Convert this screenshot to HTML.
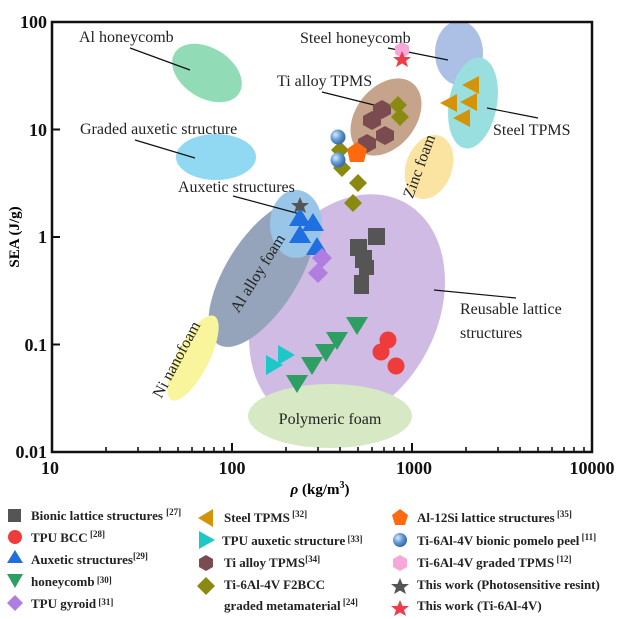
<!DOCTYPE html>
<html><head><meta charset="utf-8"><style>
body{margin:0;background:#fff;}
svg{display:block;font-family:"Liberation Serif",serif;}
.l{font-size:16px;fill:#222;}
.t{font-size:18px;font-weight:bold;fill:#111;}
.g{font-size:13px;font-weight:bold;fill:#222;}
.g tspan.s{font-size:9px;}
</style></head><body>
<svg width="625" height="619" viewBox="0 0 625 619" xmlns="http://www.w3.org/2000/svg">
<defs>
<radialGradient id="ball" cx="35%" cy="35%" r="65%"><stop offset="0" stop-color="#d8ecff"/><stop offset="0.5" stop-color="#6aa0d8"/><stop offset="1" stop-color="#3a6aa8"/></radialGradient>
</defs>
<!-- ellipses -->
<ellipse cx="347" cy="310" rx="90" ry="122" transform="rotate(28 347 310)" fill="#cfbbe3"/>
<ellipse cx="262" cy="274" rx="36" ry="83" transform="rotate(32 262 274)" fill="#95a4bb"/>
<ellipse cx="207" cy="73" rx="38" ry="25" transform="rotate(32 207 73)" fill="#91dcb6"/>
<ellipse cx="216" cy="157" rx="40" ry="23" fill="#91d8f2"/>
<ellipse cx="459" cy="53" rx="24" ry="32" fill="#abc0e4"/>
<ellipse cx="473" cy="103" rx="24" ry="46" transform="rotate(10 473 103)" fill="#9adfe0"/>
<ellipse cx="386" cy="117" rx="30" ry="43" transform="rotate(38 386 117)" fill="#c6a48c"/>
<ellipse cx="429" cy="167" rx="23" ry="33" transform="rotate(20 429 167)" fill="#fbe4a2"/>
<ellipse cx="296" cy="224" rx="26" ry="34" fill="#98c5e8"/>
<ellipse cx="193" cy="358" rx="16" ry="47" transform="rotate(27 193 358)" fill="#f8f59c"/>
<ellipse cx="330" cy="416" rx="82" ry="32" fill="#d6e9c4"/>
<!-- leaders -->
<g stroke="#111" stroke-width="1.2">
<line x1="130" y1="48" x2="190" y2="70"/>
<line x1="135" y1="140" x2="195" y2="158"/>
<line x1="233" y1="196" x2="300" y2="214"/>
<line x1="388" y1="48" x2="448" y2="60"/>
<line x1="322" y1="92" x2="378" y2="106"/>
<line x1="487" y1="108" x2="538" y2="118"/>
<line x1="434" y1="290" x2="516" y2="298"/>
</g>
<!-- labels -->
<g class="l">
<text x="79" y="42">Al honeycomb</text>
<text x="80" y="134">Graded auxetic structure</text>
<text x="178" y="192">Auxetic structures</text>
<text x="300" y="43">Steel honeycomb</text>
<text x="277" y="86">Ti alloy TPMS</text>
<text x="493" y="135">Steel TPMS</text>
<text x="460" y="314">Reusable lattice</text>
<text x="460" y="338">structures</text>
<text x="330" y="424" text-anchor="middle">Polymeric foam</text>
<text transform="translate(424,168) rotate(-70)" text-anchor="middle">Zinc foam</text>
<text transform="translate(262,276) rotate(-58)" text-anchor="middle">Al alloy foam</text>
<text transform="translate(181,362) rotate(-62)" text-anchor="middle">Ni nanofoam</text>
</g>
<!-- markers -->
<g fill="#555">
<rect x="368" y="228" width="17" height="17"/><rect x="350" y="239" width="17" height="17"/>
<rect x="355" y="251" width="17" height="17"/><rect x="359" y="260" width="15" height="15"/>
<rect x="354" y="275" width="15" height="19"/><rect x="358" y="250" width="14" height="14"/>
</g>
<g fill="#ee3c3c"><circle cx="388" cy="340" r="8.5"/><circle cx="381" cy="352" r="8.5"/><circle cx="396" cy="366" r="8.5"/></g>
<g fill="#1f6fe0">
<polygon points="300,208 311,226 289,226"/><polygon points="313,213 324,231 302,231"/>
<polygon points="300,225 311,243 289,243"/><polygon points="317,237 328,255 306,255"/>
</g>
<g fill="#b07ee0"><polygon points="322,248 332,258 322,268 312,258"/><polygon points="318,263 328,273 318,283 308,273"/></g>
<g fill="#2e9e62">
<polygon points="346,317 368,317 357,335"/><polygon points="326,332 348,332 337,350"/>
<polygon points="315,344 337,344 326,362"/><polygon points="301,357 323,357 312,375"/>
<polygon points="286,375 308,375 297,393"/>
</g>
<g fill="#1fc8c8"><polygon points="278,345 295,355 278,365"/><polygon points="266,355 283,365 266,375"/></g>
<g fill="#d4940a">
<polygon points="479,76 479,94 462,85"/><polygon points="477,93 477,111 460,102"/>
<polygon points="457,94 457,112 440,103"/><polygon points="470,109 470,127 453,118"/>
</g>
<g fill="#7a4c50">
<polygon points="382,100 391,105 391,114 382,119 373,114 373,105"/>
<polygon points="372,111 381,116 381,125 372,130 363,125 363,116"/>
<polygon points="385,126 394,131 394,140 385,145 376,140 376,131"/>
<polygon points="367,134 376,139 376,148 367,153 358,148 358,139"/>
</g>
<g fill="#8a8a10">
<polygon points="398,96 407,105 398,114 389,105"/><polygon points="400,108 409,117 400,126 391,117"/>
<polygon points="342,159 351,168 342,177 333,168"/><polygon points="358,174 367,183 358,192 349,183"/>
<polygon points="353,194 362,203 353,212 344,203"/><polygon points="340,141 349,150 340,159 331,150"/>
</g>
<polygon points="357,142 367,149 364,162 350,162 347,149" fill="#ff6a10"/>
<circle cx="338" cy="137" r="7.5" fill="url(#ball)"/><circle cx="338" cy="160" r="7.5" fill="url(#ball)"/>
<polygon points="402,42 409,46 409,54 402,58 395,54 395,46" fill="#f6a8d8"/>
<polygon points="402,51 404.5,57 411,57 406,61 408,67 402,63.5 396,67 398,61 393,57 399.5,57" fill="#ee3c4c"/>
<polygon points="300,197 302.5,203 309,203 304,207 306,213 300,209.5 294,213 296,207 291,203 297.5,203" fill="#555"/>
<!-- frame -->
<rect x="52" y="22" width="540" height="430" fill="none" stroke="#111" stroke-width="2.5"/>
<g stroke="#111" stroke-width="2">
<line x1="52" y1="22" x2="60" y2="22"/><line x1="52" y1="129.5" x2="60" y2="129.5"/>
<line x1="52" y1="237" x2="60" y2="237"/><line x1="52" y1="344.5" x2="60" y2="344.5"/>
<line x1="232" y1="452" x2="232" y2="443"/><line x1="412" y1="452" x2="412" y2="443"/>
</g>
<g stroke="#111" stroke-width="1.6">
<line x1="106" y1="452" x2="106" y2="447"/><line x1="138" y1="452" x2="138" y2="447"/><line x1="160" y1="452" x2="160" y2="447"/><line x1="178" y1="452" x2="178" y2="447"/><line x1="192" y1="452" x2="192" y2="447"/><line x1="204" y1="452" x2="204" y2="447"/><line x1="214" y1="452" x2="214" y2="447"/><line x1="224" y1="452" x2="224" y2="447"/>
<line x1="286" y1="452" x2="286" y2="447"/><line x1="318" y1="452" x2="318" y2="447"/><line x1="340" y1="452" x2="340" y2="447"/><line x1="358" y1="452" x2="358" y2="447"/><line x1="372" y1="452" x2="372" y2="447"/><line x1="384" y1="452" x2="384" y2="447"/><line x1="394" y1="452" x2="394" y2="447"/><line x1="404" y1="452" x2="404" y2="447"/>
<line x1="466" y1="452" x2="466" y2="447"/><line x1="498" y1="452" x2="498" y2="447"/><line x1="520" y1="452" x2="520" y2="447"/><line x1="538" y1="452" x2="538" y2="447"/><line x1="552" y1="452" x2="552" y2="447"/><line x1="564" y1="452" x2="564" y2="447"/><line x1="574" y1="452" x2="574" y2="447"/><line x1="584" y1="452" x2="584" y2="447"/>
</g>
<!-- tick labels -->
<g class="t">
<text x="47" y="28" text-anchor="end">100</text>
<text x="47" y="136" text-anchor="end">10</text>
<text x="47" y="243" text-anchor="end">1</text>
<text x="47" y="351" text-anchor="end">0.1</text>
<text x="47" y="458" text-anchor="end">0.01</text>
<text x="50" y="474" text-anchor="middle">10</text>
<text x="232" y="474" text-anchor="middle">100</text>
<text x="414" y="474" text-anchor="middle">1000</text>
<text x="592" y="474" text-anchor="middle">10000</text>
</g>
<text transform="translate(19,237) rotate(-90)" text-anchor="middle" style="font-size:15px;font-weight:bold">SEA (J/g)</text>
<text x="320" y="494" text-anchor="middle" style="font-size:15px;font-weight:bold"><tspan font-style="italic">ρ</tspan> (kg/m<tspan dy="-6" font-size="10">3</tspan><tspan dy="6">)</tspan></text>
<!-- legend -->
<rect x="8" y="509" width="13" height="13" fill="#555"/>
<circle cx="15" cy="537" r="7" fill="#ee3c3c"/>
<polygon points="15,550 23,563 7,563" fill="#1f6fe0"/>
<polygon points="7,574 23,574 15,588" fill="#2e9e62"/>
<polygon points="15,595 23,603 15,611 7,603" fill="#b07ee0"/>
<polygon points="213,509 213,527 198,518" fill="#d4940a"/>
<polygon points="199,531 215,540 199,549" fill="#1fc8c8"/>
<polygon points="206,555 213,559 213,567 206,571 199,567 199,559" fill="#7a4c50"/>
<polygon points="206,577 215,586 206,595 197,586" fill="#8a8a10"/>
<polygon points="400,509 408,515 405,525 395,525 392,515" fill="#ff6a10"/>
<circle cx="400" cy="540" r="7" fill="url(#ball)"/>
<polygon points="400,555 407,559 407,567 400,571 393,567 393,559" fill="#f6a8d8"/>
<polygon points="400,578 402.5,584 409,584 404,588 406,594 400,590.5 394,594 396,588 391,584 397.5,584" fill="#555"/>
<polygon points="400,600 402.5,606 409,606 404,610 406,616 400,612.5 394,616 396,610 391,606 397.5,606" fill="#ee3c4c"/>
<g class="g">
<text x="31" y="520">Bionic lattice structures <tspan class="s" dy="-5">[27]</tspan></text>
<text x="31" y="542">TPU BCC<tspan class="s" dy="-5"> [28]</tspan></text>
<text x="31" y="564">Auxetic structures<tspan class="s" dy="-5">[29]</tspan></text>
<text x="31" y="586">honeycomb<tspan class="s" dy="-3"> [30]</tspan></text>
<text x="31" y="608">TPU gyroid<tspan class="s" dy="-3"> [31]</tspan></text>
<text x="224" y="522">Steel TPMS<tspan class="s" dy="-5"> [32]</tspan></text>
<text x="222" y="545">TPU auxetic structure<tspan class="s" dy="-3"> [33]</tspan></text>
<text x="224" y="567">Ti alloy TPMS<tspan class="s" dy="-5">[34]</tspan></text>
<text x="224" y="589">Ti-6Al-4V F2BCC</text>
<text x="224" y="610">graded metamaterial<tspan class="s" dy="-5"> [24]</tspan></text>
<text x="417" y="522">Al-12Si lattice structures<tspan class="s" dy="-5"> [35]</tspan></text>
<text x="417" y="545">Ti-6Al-4V bionic pomelo peel<tspan class="s" dy="-5"> [11]</tspan></text>
<text x="417" y="567">Ti-6Al-4V graded TPMS<tspan class="s" dy="-5"> [12]</tspan></text>
<text x="417" y="589">This work (Photosensitive resint)</text>
<text x="417" y="610">This work (Ti-6Al-4V)</text>
</g>
</svg>
</body></html>
